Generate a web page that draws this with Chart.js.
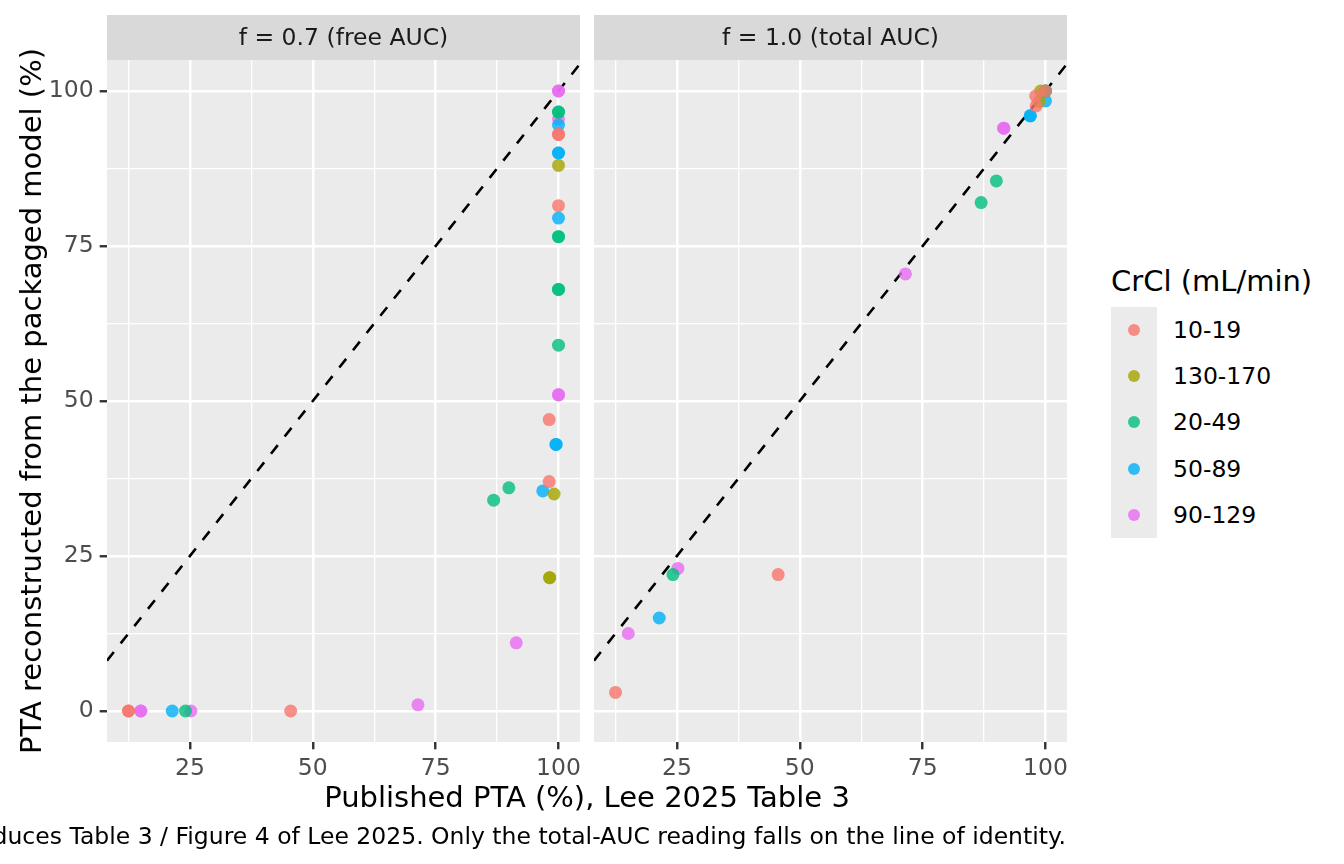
<!DOCTYPE html>
<html>
<head>
<meta charset="utf-8">
<script src="https://cdn.jsdelivr.net/npm/chart.js@4.4.1/dist/chart.umd.min.js"></script>
<style>
  body { margin: 0; background: #fff; }
  #wrap { position: relative; width: 1344px; height: 864px; overflow: hidden; font-family: "DejaVu Sans", sans-serif; }
  canvas { position: absolute; top: 0; }
  .txt { position: absolute; white-space: nowrap; color: #000; }
  #ytitle { left: 31px; top: 401px; font-size: 29px; transform: translate(-50%, -50%) rotate(-90deg); }
  #xtitle { left: 587px; top: 797px; font-size: 29px; transform: translate(-50%, -50%); }
  #caption { right: 278px; top: 836px; font-size: 23.5px; transform: translateY(-50%); }
  #legtitle { left: 1111px; top: 281px; font-size: 29px; transform: translateY(-50%); }
  #legkeys { position: absolute; left: 1111px; top: 307px; width: 46px; height: 231px; background: #EBEBEB; }
  .key { position: absolute; left: 17px; width: 12px; height: 12px; border-radius: 50%; }
  .lab { position: absolute; left: 1173px; font-size: 23.5px; transform: translateY(-50%); }
</style>
</head>
<body>
<div id="wrap">
  <canvas id="free" width="587" height="864" style="left:0px"></canvas>
  <canvas id="total" width="490" height="864" style="left:587px"></canvas>
  <div class="txt" id="ytitle">PTA reconstructed from the packaged model (%)</div>
  <div class="txt" id="xtitle">Published PTA (%), Lee 2025 Table 3</div>
  <div class="txt" id="caption">Reproduces Table 3 / Figure 4 of Lee 2025. Only the total-AUC reading falls on the line of identity.</div>
  <div class="txt" id="legtitle">CrCl (mL/min)</div>
  <div id="legkeys"></div>
</div>
<script>
// CrCl groups and their ggplot hue colours
const groups = ["10-19", "130-170", "20-49", "50-89", "90-129"];
const groupColors = ["#F8766D", "#A3A500", "#00BF7D", "#00B0F6", "#E76BF3"];

// f = 0.7 (free AUC) panel
const freeGroup = ["90-129", "90-129", "20-49", "20-49", "90-129", "50-89", "10-19", "10-19", "50-89", "50-89",
  "130-170", "10-19", "50-89", "20-49", "20-49", "20-49", "20-49", "20-49", "90-129", "90-129",
  "10-19", "50-89", "50-89", "10-19", "20-49", "50-89", "130-170", "20-49", "130-170", "130-170",
  "90-129", "10-19", "10-19", "90-129", "90-129", "50-89", "20-49", "90-129", "10-19", "90-129"];
const freePublished = [100, 100, 100, 100, 100, 100, 100, 100, 100, 100,
  100, 100, 100, 100, 100, 100, 100, 100, 100, 100,
  98.1, 99.5, 99.5, 98.1, 89.9, 96.8, 99.1, 86.8, 98.2, 98.2,
  91.4, 12.5, 12.5, 15.0, 15.0, 21.4, 24.1, 25.2, 45.5, 71.4];
const freeReconstructed = [100, 100, 96.6, 96.6, 95.5, 94.5, 93.0, 93.0, 90.0, 90.0,
  88.0, 81.5, 79.5, 76.5, 76.5, 68.0, 68.0, 59.0, 51.0, 51.0,
  47.0, 43.0, 43.0, 37.0, 36.0, 35.5, 35.0, 34.0, 21.5, 21.5,
  11.0, 0, 0, 0, 0, 0, 0, 0, 0, 1.0];

// f = 1.0 (total AUC) panel
const totalGroup = ["10-19", "90-129", "50-89", "20-49", "90-129", "10-19", "90-129", "20-49", "20-49", "90-129",
  "90-129", "50-89", "50-89", "10-19", "130-170", "10-19", "50-89", "130-170", "90-129", "10-19", "20-49", "20-49"];
const totalPublished = [12.5, 15.1, 21.4, 24.2, 25.2, 45.6, 71.5, 86.9, 90.0, 91.5,
  91.5, 96.9, 96.9, 98.1, 98.7, 98.0, 100, 99.0, 100, 100, 100, 100];
const totalReconstructed = [3.0, 12.5, 15.0, 22.0, 23.0, 22.0, 70.5, 82.0, 85.5, 94.0,
  94.0, 96.0, 96.0, 97.6, 98.3, 99.2, 98.4, 100, 100, 100, 100, 100];

// axis limits (ggplot 5% expansion) and breaks, minor breaks included
const xLimits = [8.125, 104.375];
const yLimits = [-5, 105];
const xBreaks = [12.5, 25, 37.5, 50, 62.5, 75, 87.5, 100];
const yBreaks = [0, 12.5, 25, 37.5, 50, 62.5, 75, 87.5, 100];
const majorBreaks = [0, 25, 50, 75, 100];

const FONT = "DejaVu Sans";

function rgba(hex, a) {
  const n = parseInt(hex.slice(1), 16);
  return "rgba(" + (n >> 16) + "," + ((n >> 8) & 255) + "," + (n & 255) + "," + a + ")";
}

const isMajor = (v) => majorBreaks.includes(v);

const panelPlugin = {
  id: "panel",
  beforeDraw(chart, args, opts) {
    const { ctx, chartArea: a } = chart;
    ctx.save();
    ctx.fillStyle = "#EBEBEB";
    ctx.fillRect(a.left, a.top, a.right - a.left, a.bottom - a.top);
    ctx.fillStyle = "#D9D9D9";
    ctx.fillRect(a.left, 15, a.right - a.left, a.top - 15);
    ctx.fillStyle = "#1A1A1A";
    ctx.font = "23.5px '" + FONT + "'";
    ctx.textAlign = "center";
    ctx.textBaseline = "middle";
    ctx.fillText(opts.text, (a.left + a.right) / 2, (15 + a.top) / 2 + 1);
    ctx.restore();
  },
};

function buildDatasets(grp, pub, rec) {
  const sets = groups.map((g, i) => ({
    label: g,
    data: pub.map((x, k) => ({ x: x, y: rec[k], g: grp[k] })).filter((p) => p.g === g),
    backgroundColor: rgba(groupColors[i], 0.8),
    borderWidth: 0,
    pointRadius: 6.5,
    pointHoverRadius: 6.5,
  }));
  // line of identity, last so it sits under the points
  sets.push({
    type: "line",
    label: "identity",
    data: [{ x: xLimits[0], y: xLimits[0] }, { x: xLimits[1], y: xLimits[1] }],
    borderColor: "#000000",
    borderWidth: 2.6,
    borderDash: [11, 11],
    pointRadius: 0,
    fill: false,
  });
  return sets;
}

function makeChart(id, strip, grp, pub, rec, showY, padLeft, padRight) {
  return new Chart(document.getElementById(id), {
    type: "scatter",
    data: { datasets: buildDatasets(grp, pub, rec) },
    plugins: [panelPlugin],
    options: {
      responsive: false,
      animation: false,
      events: [],
      layout: { padding: { top: 60, left: padLeft, right: padRight, bottom: 0 } },
      plugins: {
        legend: { display: false },
        tooltip: { enabled: false },
        panel: { text: strip },
      },
      scales: {
        x: {
          type: "linear",
          min: xLimits[0],
          max: xLimits[1],
          afterBuildTicks: (s) => { s.ticks = xBreaks.map((v) => ({ value: v })); },
          afterFit: (s) => { s.height = 122; },
          border: { display: false },
          grid: {
            color: "#FFFFFF",
            lineWidth: (c) => (isMajor(c.tick.value) ? 2.5 : 1.3),
            tickColor: (c) => (isMajor(c.tick.value) ? "#333333" : "rgba(0,0,0,0)"),
            tickWidth: 2.4,
            tickLength: 7.3,
          },
          ticks: {
            autoSkip: false,
            maxRotation: 0,
            padding: 5,
            color: "#4D4D4D",
            font: { family: FONT, size: 23.5 },
            callback: (v) => (isMajor(v) ? v : ""),
          },
        },
        y: {
          type: "linear",
          min: yLimits[0],
          max: yLimits[1],
          afterBuildTicks: (s) => { s.ticks = yBreaks.map((v) => ({ value: v })); },
          afterFit: (s) => { s.width = showY ? 107 : 0; },
          border: { display: false },
          grid: {
            color: "#FFFFFF",
            lineWidth: (c) => (isMajor(c.tick.value) ? 2.5 : 1.3),
            tickColor: (c) => (isMajor(c.tick.value) ? "#333333" : "rgba(0,0,0,0)"),
            tickWidth: 2.4,
            tickLength: 7.3,
            drawTicks: showY,
          },
          ticks: {
            display: showY,
            autoSkip: false,
            padding: 6,
            color: "#4D4D4D",
            font: { family: FONT, size: 23.5 },
            callback: (v) => (isMajor(v) ? v : ""),
          },
        },
      },
    },
  });
}

makeChart("free", "f = 0.7 (free AUC)", freeGroup, freePublished, freeReconstructed, true, 0, 7);
makeChart("total", "f = 1.0 (total AUC)", totalGroup, totalPublished, totalReconstructed, false, 7, 10);

// legend keys built from the group list
const keys = document.getElementById("legkeys");
const wrap = document.getElementById("wrap");
groups.forEach((g, i) => {
  const cy = 23 + i * 46.2;
  const dot = document.createElement("div");
  dot.className = "key";
  dot.style.top = (cy - 6) + "px";
  dot.style.background = rgba(groupColors[i], 0.8);
  keys.appendChild(dot);
  const lab = document.createElement("div");
  lab.className = "txt lab";
  lab.style.top = (307 + cy) + "px";
  lab.textContent = g;
  wrap.appendChild(lab);
});
</script>
</body>
</html>
